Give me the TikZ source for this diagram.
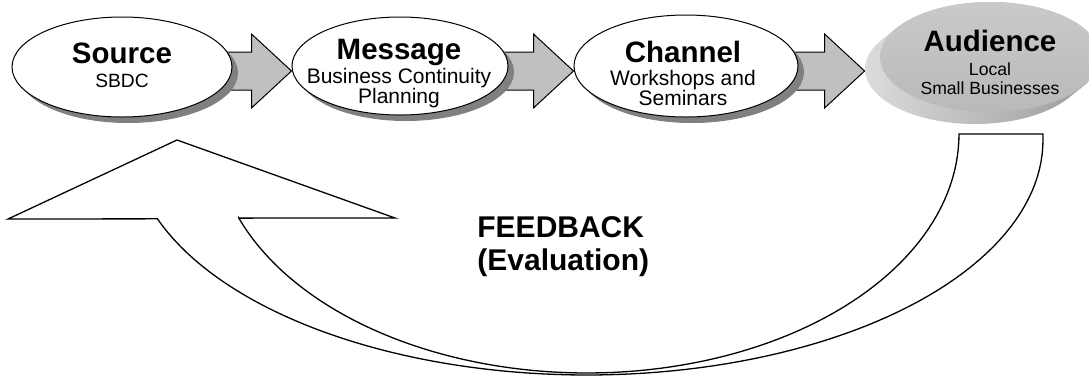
\documentclass[tikz,border=0pt]{standalone}
\usepackage{fontspec}
\setmainfont{Liberation Sans}
\usetikzlibrary{shapes.geometric,shadows,calc,backgrounds}
\definecolor{shadowgray}{HTML}{808080}
\definecolor{arrowgray}{HTML}{C0C0C0}
\newcommand\blockarr[2]{%
  \path[blockarrow]
    ($(#1.east |- ay)+(-30,-19)$) -- ($(#2.west |- ay)+(-40,-19)$) --
    ($(#2.west |- ay)+(-40,-37)$) -- (#2.west |- ay) --
    ($(#2.west |- ay)+(-40,37)$) -- ($(#2.west |- ay)+(-40,19)$) --
    ($(#1.east |- ay)+(-30,19)$) -- cycle;}
\begin{document}
\begin{tikzpicture}[x=0.5pt,y=-0.5pt,
  bubble/.style={ellipse, draw=black, line width=0.5pt, fill=white, inner sep=0pt,
    general shadow={fill=shadowgray, shadow xshift=3pt, shadow yshift=-3pt}},
  blockarrow/.style={draw=black, line width=0.5pt, fill=arrowgray, line join=miter},
  ttl/.style={anchor=base, inner sep=0pt, font=\fontsize{14.75}{17}\selectfont\bfseries},
  sub/.style={anchor=base, inner sep=0pt, font=\fontsize{10.5}{12}\selectfont},
  subsm/.style={anchor=base, inner sep=0pt, font=\fontsize{8.8}{10}\selectfont},
  fbtext/.style={anchor=base west, inner sep=0pt, font=\fontsize{15}{17}\selectfont\bfseries},
  fbarrow/.style={draw=black, fill=white, line width=0.65pt, line join=miter}]
\useasboundingbox (0,0) rectangle (1089,377);
\clip (0,0) rectangle (1089,377);
\coordinate (ay) at (0,71);

% Audience 3D disc
\shade[left color=gray!28, right color=gray!80]
  plot[domain=212:392, samples=70] ({990+110*cos(\x)},{57+55*sin(\x)}) --
  plot[domain=32:212, samples=70] ({975+110*cos(\x)},{69+55*sin(\x)}) -- cycle;
\node[ellipse, minimum width=110pt, minimum height=55pt, inner sep=0pt] (audbase) at (975,69) {};
\node[ellipse, minimum width=110pt, minimum height=55pt, inner sep=0pt,
      top color=gray!42, bottom color=gray!55] (aud) at (990,57) {};

% ellipses
\node[bubble, minimum width=110pt, minimum height=50pt] (src) at (122,67) {};
\node[bubble, minimum width=108pt, minimum height=49pt] (msg) at (400,66) {};
\node[bubble, minimum width=112pt, minimum height=51pt] (chn) at (686,66) {};

% block arrows behind
\begin{scope}[on background layer]
  \blockarr{src}{msg}
  \blockarr{msg}{chn}
  \blockarr{chn}{audbase}
\end{scope}

% texts
\node[ttl] (srcT) at (122,63) {Source};
\node[sub, font=\fontsize{9.6}{11}\selectfont] (srcS) at (122,87) {SBDC};
\node[ttl] (msgT) at (399,59) {Message};
\node[sub] (msgS1) at (399,83) {Business Continuity};
\node[sub] (msgS2) at (399,103) {Planning};
\node[ttl] (chnT) at (683,62) {Channel};
\node[sub] (chnS1) at (683,85) {Workshops and};
\node[sub] (chnS2) at (683,105) {Seminars};
\node[ttl] (audT) at (990,51) {Audience};
\node[subsm] (audS1) at (990,75) {Local};
\node[subsm] (audS2) at (990,94) {Small Businesses};

% feedback arrow
\path[fbarrow] (177,140) -- (395,218) -- (238.8,218.1) --
  plot[domain=159.4:0, samples=90] ({587+372*cos(\x)},{134+239*sin(\x)}) --
  (1043,134) -- (1043,140) --
  plot[domain=0:160.4, samples=90] ({587+456*cos(\x)},{140+235*sin(\x)}) --
  (8,219) -- cycle;
\node[fbtext] (fb1) at (477,237) {FEEDBACK};
\node[fbtext] (fb2) at (477,270) {(Evaluation)};
\end{tikzpicture}
\end{document}
